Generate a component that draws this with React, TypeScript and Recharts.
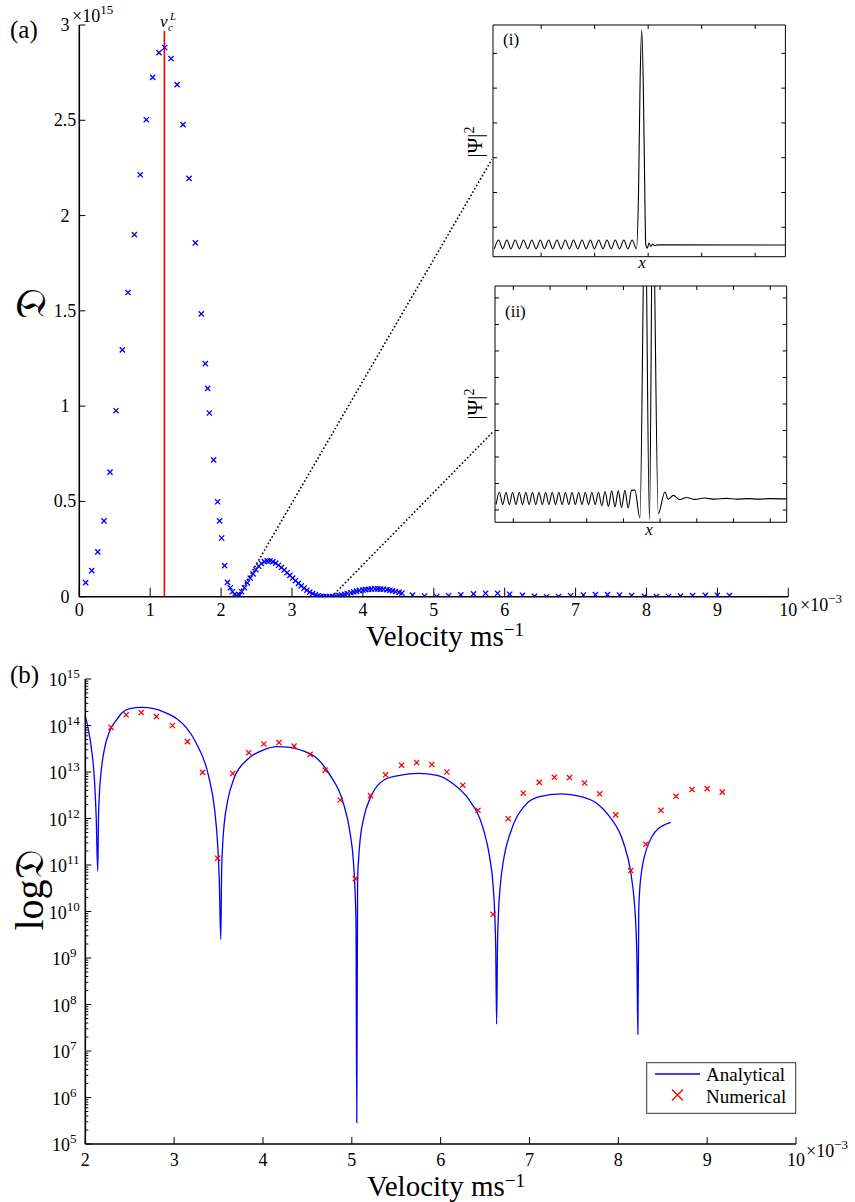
import React from "react";
import { ComposedChart, LineChart, Line, Scatter, XAxis, YAxis, ReferenceLine } from "recharts";

const FONT = "'Liberation Serif', 'DejaVu Serif', serif";
const FRAK = "'DejaVu Sans', 'DejaVu Serif', 'Noto Sans', serif";

// (a) numerical scan: velocity in 1e-3 m/s, D in 1e15
const scanVelocity = [
  0.09, 0.175, 0.26, 0.348, 0.433, 0.518, 0.607, 0.687, 0.776, 0.86, 0.945, 1.035, 1.124, 1.204, 1.294, 1.379,
  1.463, 1.547, 1.637, 1.721, 1.778, 1.811, 1.834, 1.895, 1.951, 1.979, 2.008, 2.05, 2.09, 2.13, 2.16, 2.19,
  2.22, 2.26, 2.29, 2.33, 2.37, 2.41, 2.45, 2.49, 2.53, 2.57, 2.61, 2.65, 2.69, 2.73, 2.77, 2.81, 2.85, 2.89,
  2.93, 2.97, 3.01, 3.05, 3.09, 3.13, 3.17, 3.21, 3.25, 3.29, 3.33, 3.37, 3.41, 3.45, 3.49, 3.53, 3.57, 3.62,
  3.66, 3.7, 3.74, 3.78, 3.83, 3.87, 3.91, 3.95, 4.0, 4.04, 4.08, 4.12, 4.17, 4.21, 4.25, 4.29, 4.34, 4.38,
  4.42, 4.46, 4.51, 4.55, 4.7, 4.87, 5.04, 5.21, 5.38, 5.56, 5.73, 5.9, 6.07, 6.25, 6.42, 6.59, 6.76, 6.93,
  7.11, 7.28, 7.45, 7.62, 7.79, 7.97, 8.14, 8.31, 8.48, 8.65, 8.83, 9.0, 9.17,
];
const scanDissipation = [
  0.074, 0.137, 0.235, 0.398, 0.654, 0.976, 1.295, 1.596, 1.9, 2.214, 2.503, 2.725, 2.855, 2.882, 2.824, 2.687,
  2.477, 2.195, 1.857, 1.484, 1.223, 1.093, 0.964, 0.718, 0.498, 0.398, 0.308, 0.163, 0.075, 0.047, 0.026, 0.012,
  0.005, 0.008, 0.026, 0.047, 0.072, 0.097, 0.12, 0.142, 0.16, 0.174, 0.184, 0.188, 0.188, 0.184, 0.176, 0.165, 0.153, 0.14,
  0.126, 0.112, 0.098, 0.084, 0.07, 0.057, 0.045, 0.034, 0.024, 0.016, 0.01, 0.005, 0.002, 0.0005, 0, 0.0002, 0.001, 0.003,
  0.006, 0.009, 0.013, 0.017, 0.021, 0.025, 0.029, 0.032, 0.035, 0.037, 0.039, 0.04, 0.041, 0.041, 0.04, 0.039, 0.037, 0.034,
  0.031, 0.027, 0.023, 0.019, 0.008, 0.004, 0.0005, 0.005, 0.01, 0.015, 0.018, 0.018, 0.013, 0.007, 0.002, 0, 0.001, 0.005,
  0.009, 0.011, 0.011, 0.009, 0.006, 0.002, 0.0002, 0.001, 0.003, 0.006, 0.007, 0.007, 0.006,
];
const velocityTicksA = [0, 1, 2, 3, 4, 5, 6, 7, 8, 9, 10];
const dissipationTicksA = [0, 0.5, 1, 1.5, 2, 2.5, 3];
const criticalVelocity = 1.2;
const criticalTop = 2.97;
// callouts from the minima of (a) to the insets
const calloutStart = [2.23, 3.56];
const calloutEnd = [
  [5.82, 2.295],
  [5.84, 0.867],
];

// (b) analytical curve and numerical points, velocity in 1e-3 m/s
const analyticVelocity = [
  2.0, 2.035, 2.07, 2.105, 2.1225, 2.14, 2.148, 2.157, 2.175, 2.209, 2.2785, 2.35, 2.417, 2.5, 2.635, 2.77, 2.9,
  3.03, 3.14, 3.248, 3.386, 3.456, 3.49, 3.508, 3.525, 3.534, 3.544, 3.563, 3.602, 3.678, 3.831, 4.0, 4.16, 4.31,
  4.46, 4.59, 4.75, 4.903, 4.979, 5.018, 5.037, 5.047, 5.056, 5.065, 5.076, 5.095, 5.135, 5.213, 5.371, 5.54, 5.75,
  5.96, 6.14, 6.315, 6.473, 6.551, 6.591, 6.61, 6.62, 6.63, 6.64, 6.65, 6.67, 6.71, 6.789, 6.948, 7.1, 7.36, 7.57,
  7.76, 7.902, 8.061, 8.14, 8.18, 8.2, 8.21, 8.22, 8.23, 8.24, 8.26, 8.3, 8.379, 8.538, 8.59,
];
const analyticD = [
  1.6e14, 8.1e13, 3.1e13, 5.9e12, 1.1e12, 7.4e10, 9.1e11, 3.0e12, 8.9e12, 2.7e13, 7.9e13, 1.3e14, 1.9e14, 2.3e14,
  2.45e14, 2.3e14, 1.9e14, 1.4e14, 8.9e13, 4.2e13, 8.5e12, 1.55e12, 2.75e11, 4.9e10, 2.5e9, 6.5e10, 2.3e11, 7.4e11,
  2.4e12, 7.6e12, 1.9e13, 2.95e13, 3.5e13, 3.4e13, 2.8e13, 2.1e13, 8.9e12, 2.2e12, 5.1e11, 1.2e11, 2.6e10, 5.5e9,
  2.9e5, 4.4e10, 1.3e11, 3.7e11, 1.05e12, 2.9e12, 6.9e12, 8.5e12, 9.3e12, 8.5e12, 5.6e12, 2.6e12, 6.6e11, 1.5e11,
  3.5e10, 7.8e9, 1.6e9, 3.8e7, 1.95e9, 8.5e9, 3.4e10, 1.35e11, 5.2e11, 1.9e12, 2.9e12, 3.4e12, 3.0e12, 2.1e12,
  1.1e12, 2.9e11, 6.9e10, 1.6e10, 3.8e9, 8.1e8, 2.3e7, 1.07e10, 2.8e10, 6.9e10, 1.7e11, 4.1e11, 7.6e11, 8.3e11,
];
const numericVelocity = [
  2.29, 2.46, 2.63, 2.8, 2.98, 3.15, 3.32, 3.49, 3.66, 3.84, 4.01, 4.18, 4.35, 4.53, 4.7, 4.87, 5.04, 5.21, 5.38, 5.56,
  5.73, 5.9, 6.07, 6.25, 6.42, 6.59, 6.76, 6.93, 7.11, 7.28, 7.45, 7.62, 7.79, 7.97, 8.14, 8.31, 8.48, 8.65, 8.83, 9.0, 9.17,
];
const numericD = [
  9.1e13, 1.7e14, 1.9e14, 1.56e14, 1.0e14, 4.5e13, 9.8e12, 1.4e11, 9.3e12, 2.6e13, 4.0e13, 4.3e13, 3.6e13, 2.4e13,
  1.1e13, 2.5e12, 5.1e10, 3.1e12, 8.7e12, 1.4e13, 1.6e13, 1.45e13, 1.0e13, 5.2e12, 1.5e12, 8.7e9, 9.9e11, 3.5e12,
  6.0e12, 7.7e12, 7.6e12, 5.8e12, 3.4e12, 1.2e12, 7.6e10, 2.8e11, 1.5e12, 3.0e12, 4.2e12, 4.4e12, 3.7e12,
];
const velocityTicksB = [2, 3, 4, 5, 6, 7, 8, 9, 10];
const decadeExponents = [5, 6, 7, 8, 9, 10, 11, 12, 13, 14, 15];
const minorMultipliers = [2, 3, 4, 5, 6, 7, 8, 9];

// inset (i): |Psi|^2 profile, arbitrary units
const insetOneX = [
  -17.5, -15.9, -14.4, -12.8, -11.3, -9.7, -8.1, -6.6, -5.0, -3.5, -1.9, -0.3, 1.2, 2.8, 4.3, 5.9, 7.5, 9.0,
  10.6, 12.1, 13.7, 15.3, 16.8, 18.4, 19.9, 21.5, 23.1, 24.6, 26.2, 27.7, 29.3, 30.9, 32.4, 34.0, 35.6, 36.4,
  37.0, 37.6, 38.2, 38.7, 39.1, 39.7, 40.3, 41.0, 41.7, 42.5, 43.5, 91.3,
];
const insetOneY = [
  0.076, 0.127, 0.076, 0.127, 0.076, 0.127, 0.076, 0.127, 0.076, 0.127, 0.076, 0.127, 0.076, 0.127, 0.076, 0.127,
  0.076, 0.127, 0.076, 0.127, 0.076, 0.127, 0.076, 0.127, 0.076, 0.127, 0.076, 0.127, 0.076, 0.127, 0.076, 0.127,
  0.076, 0.127, 0.076, 0.4, 1.05, 1.334, 1.0, 0.45, 0.1, 0.08, 0.11, 0.09, 0.104, 0.095, 0.099, 0.098,
];
const insetOneXTicks = [0, 20, 40, 60, 80];
const insetOneYTicks = [0.2, 0.4, 0.6, 0.8, 1.0, 1.2];

// inset (ii)
const insetTwoX = [
  -4.7, -3.8, -2.9, -2.0, -1.1, -0.2, 0.7, 1.6, 2.5, 3.4, 4.3, 5.2, 6.1, 7.0, 7.9, 8.8, 9.7, 10.6, 11.5, 12.4,
  13.3, 14.2, 15.1, 16.0, 16.9, 17.8, 18.7, 19.6, 20.5, 21.4, 22.3, 23.2, 24.1, 25.0, 25.9, 26.8, 27.7, 28.6,
  29.5, 30.4, 31.3, 32.2, 33.1, 34.5, 35.9, 37.1, 38.0, 39.5, 41.3, 42.2, 43.6, 45.4, 47.2, 49.5, 52, 55, 58,
  61, 64, 67, 70, 74.5,
];
const insetTwoY = [
  0.121, 0.167, 0.121, 0.167, 0.121, 0.167, 0.121, 0.167, 0.121, 0.167, 0.121, 0.167, 0.121, 0.167, 0.121, 0.167,
  0.121, 0.167, 0.121, 0.167, 0.121, 0.167, 0.121, 0.167, 0.121, 0.167, 0.121, 0.167, 0.121, 0.167, 0.121, 0.167,
  0.116, 0.17, 0.114, 0.172, 0.112, 0.172, 0.11, 0.174, 0.108, 0.174, 0.176, 0.07, 1.3, 0.063, 1.3, 0.086, 0.168,
  0.141, 0.155, 0.139, 0.147, 0.14, 0.145, 0.141, 0.144, 0.141, 0.143, 0.141, 0.143, 0.142,
];
const insetTwoXTicks = [0, 10, 20, 30, 40, 50, 60, 70];
const insetTwoYTicks = [0.1, 0.2, 0.3, 0.4, 0.5, 0.6, 0.7, 0.8, 0.9];

const zip = (xs: number[], ys: number[]) => xs.map((x, i) => ({ x, y: ys[i] }));

const scanPoints = zip(scanVelocity, scanDissipation);
const analyticPoints = zip(analyticVelocity, analyticD);
const numericPoints = zip(numericVelocity, numericD);
const majorTicksB = decadeExponents.map((e) => Math.pow(10, e));
const minorTicksB = decadeExponents.slice(0, -1).flatMap((e) => minorMultipliers.map((m) => m * Math.pow(10, e)));

const EmptyTick = () => <g />;

const crossShape = (size: number, color: string) => (p: any) => (
  <path
    d={`M${p.cx - size},${p.cy - size}L${p.cx + size},${p.cy + size}M${p.cx - size},${p.cy + size}L${p.cx + size},${p.cy - size}`}
    stroke={color}
    strokeWidth={1.3}
    fill="none"
  />
);

// tick label renderers (centered, like MATLAB's padded labels)
const makeTick = (dy: number) => (props: any) => (
  <text x={props.x} y={props.y + dy} textAnchor="middle" fontFamily={FONT} fontSize={18} fill="#000">
    {props.payload.value}
  </text>
);
const PowerTick = (props: any) => {
  const { x, y, payload } = props;
  const exp = Math.round(Math.log10(payload.value));
  return (
    <text x={x} y={y + 7} textAnchor="middle" fontFamily={FONT} fontSize={18} fill="#000">
      10<tspan dy={-8} fontSize={13}>{exp}</tspan>
    </text>
  );
};

const axisLine = { stroke: "#000", strokeWidth: 1.6 };
const tickLine = { stroke: "#000", strokeWidth: 1 };

function Inset(props: {
  data: { x: number; y: number }[];
  left: number;
  top: number;
  width: number;
  height: number;
  xDomain: [number, number];
  yDomain: [number, number];
  xTicks: number[];
  yTicks: number[];
}) {
  const { data, left, top, width, height, xDomain, yDomain, xTicks, yTicks } = props;
  const frame = { stroke: "#000", strokeWidth: 1 };
  return (
    <div style={{ position: "absolute", left: left - 1, top: top - 1, background: "#fff" }}>
      <LineChart width={width + 2} height={height + 2} margin={{ top: 1, right: 1, bottom: 1, left: 1 }}>
        <XAxis type="number" dataKey="x" domain={xDomain} ticks={xTicks} mirror height={1} tick={EmptyTick} tickSize={4} axisLine={frame} tickLine={frame} allowDataOverflow />
        <XAxis xAxisId="top" orientation="top" type="number" dataKey="x" domain={xDomain} ticks={xTicks} mirror height={1} tick={EmptyTick} tickSize={4} axisLine={frame} tickLine={frame} allowDataOverflow />
        <YAxis type="number" dataKey="y" domain={yDomain} ticks={yTicks} mirror width={1} tick={EmptyTick} tickSize={4} axisLine={frame} tickLine={frame} allowDataOverflow />
        <YAxis yAxisId="right" orientation="right" type="number" domain={yDomain} ticks={yTicks} mirror width={1} tick={EmptyTick} tickSize={4} axisLine={frame} tickLine={frame} allowDataOverflow />
        <Line data={data} dataKey="y" type="monotone" stroke="#000" strokeWidth={1.1} dot={false} isAnimationActive={false} />
      </LineChart>
    </div>
  );
}

export default function App() {
  return (
    <div style={{ position: "absolute", left: 0, top: 0, width: 855, height: 1202, background: "#fff" }}>
      <div style={{ position: "absolute", left: 0, top: 0 }}>
        <ComposedChart width={855} height={640} margin={{ top: 25, right: 66.7, bottom: 13.3, left: 39.3 }}>
          <XAxis type="number" dataKey="x" domain={[0, 10]} ticks={velocityTicksA} interval={0} height={30} tickSize={-9} tickMargin={9} axisLine={axisLine} tickLine={tickLine} tick={makeTick(18.8)} allowDataOverflow />
          <YAxis type="number" dataKey="y" domain={[0, 3]} ticks={dissipationTicksA} interval={0} width={40} tickSize={-6} tickMargin={20.3} axisLine={axisLine} tickLine={tickLine} tick={makeTick(6)} allowDataOverflow />
          <ReferenceLine segment={[{ x: criticalVelocity, y: 0 }, { x: criticalVelocity, y: criticalTop }]} stroke="#ff0000" strokeWidth={1.6} />
          {calloutEnd.map((end, i) => (
            <ReferenceLine key={i} segment={[{ x: calloutStart[i], y: 0 }, { x: end[0], y: end[1] }]} stroke="#000" strokeWidth={1.6} strokeDasharray="1.6 2.2" />
          ))}
          <Scatter data={scanPoints} dataKey="y" shape={crossShape(2.6, "#0000ff")} isAnimationActive={false} />
        </ComposedChart>
      </div>

      <div style={{ position: "absolute", left: 0, top: 640 }}>
        <ComposedChart width={855} height={562} margin={{ top: 39, right: 59, bottom: 28, left: 45.3 }}>
          <XAxis type="number" dataKey="x" domain={[2, 10]} ticks={velocityTicksB} interval={0} height={30} tickSize={-7} tickMargin={7} axisLine={axisLine} tickLine={tickLine} tick={makeTick(22)} allowDataOverflow />
          <YAxis type="number" dataKey="y" scale="log" domain={[1e5, 1e15]} ticks={majorTicksB} interval={0} width={40} tickSize={-6} tickMargin={27} axisLine={axisLine} tickLine={tickLine} tick={<PowerTick />} allowDataOverflow />
          <YAxis yAxisId="minor" type="number" scale="log" domain={[1e5, 1e15]} ticks={minorTicksB} interval={0} mirror width={1} tickSize={3} axisLine={false} tickLine={tickLine} tick={EmptyTick} allowDataOverflow />
          <Line data={analyticPoints} dataKey="y" type="monotone" stroke="#0000ff" strokeWidth={1.3} dot={false} isAnimationActive={false} />
          <Scatter data={numericPoints} dataKey="y" shape={crossShape(2.6, "#ff0000")} isAnimationActive={false} />
        </ComposedChart>
      </div>

      <Inset data={zip(insetOneX, insetOneY)} left={493.3} top={25} width={292.4} height={231.7} xDomain={[-18, 91.3]} yDomain={[0.031, 1.363]} xTicks={insetOneXTicks} yTicks={insetOneYTicks} />
      <Inset data={zip(insetTwoX, insetTwoY)} left={495} top={286} width={291.7} height={236.3} xDomain={[-5, 74.5]} yDomain={[0.0536, 0.945]} xTicks={insetTwoXTicks} yTicks={insetTwoYTicks} />

      <svg width={855} height={1202} style={{ position: "absolute", left: 0, top: 0, pointerEvents: "none" }} fontFamily={FONT} fill="#000">
        <text x={10} y={38} fontSize={25}>(a)</text>
        <text x={10} y={683} fontSize={25}>(b)</text>
        <text x={72} y={22} fontSize={18}>×10<tspan dy={-8} fontSize={13}>15</tspan></text>
        <text x={800} y={611} fontSize={18}>×10<tspan dy={-8} fontSize={13}>−3</tspan></text>
        <text x={806} y={1157} fontSize={18}>×10<tspan dy={-8} fontSize={13}>−3</tspan></text>
        <text x={366} y={645.5} fontSize={29}>Velocity ms<tspan dy={-10} fontSize={19}>−1</tspan></text>
        <text x={367} y={1196} fontSize={29}>Velocity ms<tspan dy={-9} fontSize={19}>−1</tspan></text>
        <text x={45} y={303} fontSize={42} fontFamily={FRAK} textAnchor="middle" transform="rotate(-90 45 303)">𝔇</text>
        <text x={43} y={890} fontSize={40} textAnchor="middle" transform="rotate(-90 43 890)">log<tspan fontFamily={FRAK}>𝔇</tspan></text>
        <text x={160} y={27} fontSize={17} fontStyle="italic">v</text>
        <text x={168} y={31} fontSize={11} fontStyle="italic">c</text>
        <text x={170} y={20} fontSize={11} fontStyle="italic">L</text>
        <text x={503} y={45} fontSize={17}>(i)</text>
        <text x={505} y={317} fontSize={17}>(ii)</text>
        <text x={642} y={268} fontSize={17} fontStyle="italic" textAnchor="middle">x</text>
        <text x={649} y={535} fontSize={17} fontStyle="italic" textAnchor="middle">x</text>
        <text x={482} y={142} fontSize={21} textAnchor="middle" transform="rotate(-90 482 142)">|Ψ|<tspan dy={-8} fontSize={14}>2</tspan></text>
        <text x={482} y={404} fontSize={21} textAnchor="middle" transform="rotate(-90 482 404)">|Ψ|<tspan dy={-8} fontSize={14}>2</tspan></text>

        <rect x={646.7} y={1062.7} width={149} height={50.6} fill="#fff" stroke="#333" strokeWidth={1} />
        <line x1={655} y1={1074} x2={700} y2={1074} stroke="#0000ff" strokeWidth={1.3} />
        <path d="M672,1089.5L683,1100.5M672,1100.5L683,1089.5" stroke="#ff0000" strokeWidth={1.3} />
        <text x={706} y={1081} fontSize={19}>Analytical</text>
        <text x={706} y={1103} fontSize={19}>Numerical</text>
      </svg>
    </div>
  );
}
